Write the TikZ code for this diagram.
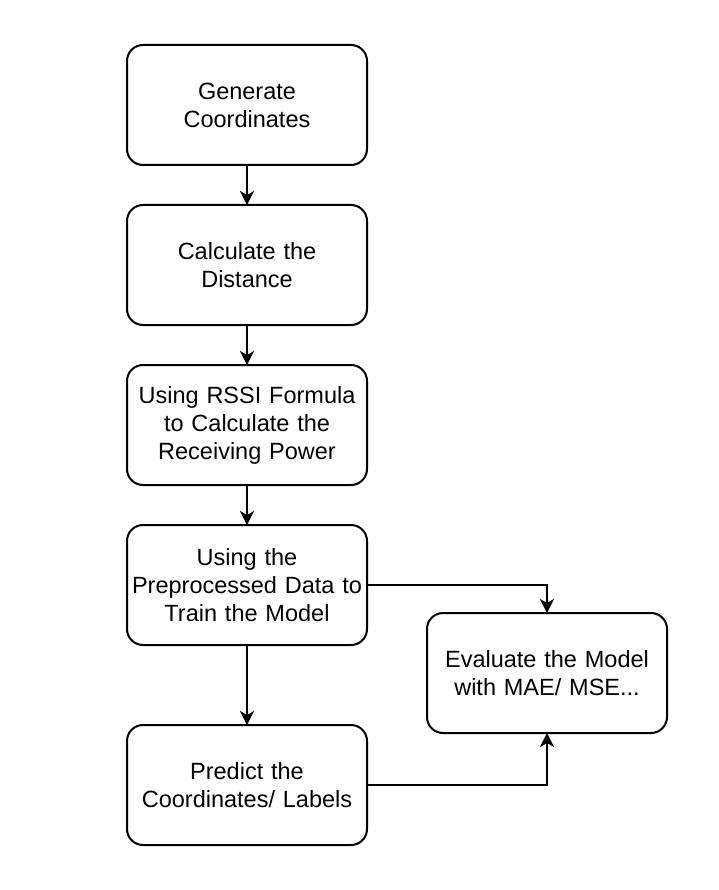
\documentclass[tikz,border=0pt]{standalone}
\usepackage{fontspec}
\setmainfont{Liberation Sans}
\usetikzlibrary{positioning, arrows.meta}

\begin{document}
\begin{tikzpicture}[node distance=40pt, auto, line width=2pt, >={Stealth[length=14pt, width=14pt, inset=4pt]}]
    % Define block styles
    \tikzstyle{block} = [rectangle, draw, fill=white, text width=230pt, align=center, rounded corners=16pt, minimum width=240pt, minimum height=120pt, inner sep=0pt, outer sep=0pt, font=\fontsize{23.5}{28}\selectfont]

    \useasboundingbox (0pt,0pt) rectangle (718pt,-890pt);

    % Place nodes
    \node [block] (gen) at (247pt,-105pt) {Generate\\Coordinates};
    \node [block, below=of gen] (dist) {Calculate the\\Distance};
    \node [block, below=of dist] (rssi) {Using RSSI Formula\\to Calculate the\\Receiving Power};
    \node [block, below=of rssi] (train) {Using the\\Preprocessed Data to\\Train the Model};
    \node [block, below=80pt of train] (predict) {Predict the\\Coordinates/ Labels};
    \node [block, right=60pt of train, yshift=-88pt] (eval) {Evaluate the Model\\with MAE/ MSE...};

    % Draw connections as arrows
    \draw [->] (gen) -- (dist);
    \draw [->] (dist) -- (rssi);
    \draw [->] (rssi) -- (train);
    \draw [->] (train) -- (predict);
    \draw [->] (train.east) -| (eval.north);
    \draw [->] (predict.east) -| (eval.south);

\end{tikzpicture}
\end{document}
